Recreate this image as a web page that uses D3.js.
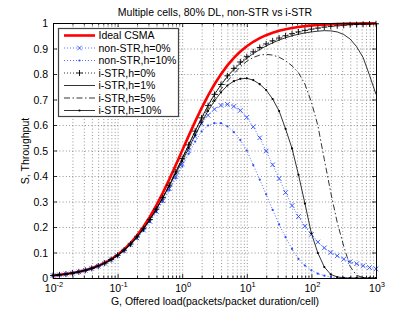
<!DOCTYPE html>
<html>
<head>
<meta charset="utf-8">
<script src="https://cdn.jsdelivr.net/npm/d3@7"></script>
<style>
  body { margin: 0; background: #fff; }
  svg { display: block; }
  text { font-family: "Liberation Sans", Arial, sans-serif; fill: #000; }
</style>
</head>
<body>
<svg width="415" height="312"></svg>
<script>
// offered load grid, log10(G), 0.1 decade per sample
const logG = [-2, -1.9, -1.8, -1.7, -1.6, -1.5, -1.4, -1.3, -1.2, -1.1,
  -1, -0.9, -0.8, -0.7, -0.6, -0.5, -0.4, -0.3, -0.2, -0.1,
  0, 0.1, 0.2, 0.3, 0.4, 0.5, 0.6, 0.7, 0.8, 0.9,
  1, 1.1, 1.2, 1.3, 1.4, 1.5, 1.6, 1.7, 1.8, 1.9,
  2, 2.1, 2.2, 2.3, 2.4, 2.5, 2.6, 2.7, 2.8, 2.9, 3];

const idealCSMA = [0.0099, 0.0124, 0.0156, 0.0196, 0.0245, 0.0307, 0.0383, 0.0477, 0.0594, 0.0736,
  0.0909, 0.1118, 0.1368, 0.1663, 0.2008, 0.2403, 0.2847, 0.3339, 0.3869, 0.4427,
  0.5, 0.5573, 0.6131, 0.6661, 0.7153, 0.7597, 0.7992, 0.8337, 0.8632, 0.8882,
  0.9091, 0.9264, 0.9406, 0.9523, 0.9617, 0.9693, 0.9755, 0.9804, 0.9844, 0.9876,
  0.9901, 0.9921, 0.9937, 0.995, 0.996, 0.9968, 0.9975, 0.998, 0.9984, 0.9987, 0.999];

const nonStr0 = [0.0098, 0.0123, 0.0154, 0.0193, 0.0241, 0.0301, 0.0375, 0.0466, 0.0578, 0.0714,
  0.0875, 0.107, 0.130, 0.157, 0.188, 0.222, 0.261, 0.303, 0.350, 0.398,
  0.448, 0.500, 0.555, 0.605, 0.638, 0.662, 0.677, 0.681, 0.673, 0.657,
  0.630, 0.593, 0.550, 0.498, 0.444, 0.390, 0.335, 0.284, 0.241, 0.203,
  0.171, 0.141, 0.118, 0.100, 0.087, 0.074, 0.064, 0.056, 0.048, 0.041, 0.036];

const nonStr10 = [0.0098, 0.0123, 0.0154, 0.0193, 0.0241, 0.0301, 0.0375, 0.0466, 0.0578, 0.0714,
  0.0873, 0.107, 0.130, 0.156, 0.186, 0.220, 0.258, 0.299, 0.344, 0.391,
  0.438, 0.487, 0.535, 0.575, 0.598, 0.607, 0.607, 0.595, 0.572, 0.541,
  0.500, 0.443, 0.386, 0.328, 0.267, 0.210, 0.160, 0.114, 0.075, 0.049,
  0.030, 0.017, 0.009, 0.004, 0.002, 0.001, 0, 0, 0, 0, 0];

const iStr0 = [0.0098, 0.0123, 0.0154, 0.0193, 0.0242, 0.0303, 0.0378, 0.0470, 0.0584, 0.0722,
  0.089, 0.109, 0.133, 0.161, 0.193, 0.229, 0.270, 0.315, 0.364, 0.416,
  0.468, 0.522, 0.576, 0.628, 0.676, 0.720, 0.759, 0.793, 0.822, 0.847,
  0.868, 0.887, 0.904, 0.918, 0.930, 0.941, 0.950, 0.958, 0.965, 0.971,
  0.976, 0.980, 0.984, 0.987, 0.989, 0.991, 0.993, 0.994, 0.995, 0.996, 0.997];

const iStr1 = [0.0098, 0.0123, 0.0154, 0.0193, 0.0242, 0.0303, 0.0378, 0.0470, 0.0584, 0.0722,
  0.089, 0.109, 0.133, 0.161, 0.193, 0.229, 0.270, 0.315, 0.364, 0.416,
  0.468, 0.522, 0.576, 0.628, 0.676, 0.720, 0.757, 0.790, 0.818, 0.842,
  0.862, 0.880, 0.896, 0.910, 0.922, 0.933, 0.942, 0.950, 0.956, 0.961,
  0.965, 0.968, 0.970, 0.969, 0.965, 0.955, 0.937, 0.907, 0.865, 0.795, 0.720];

const iStr5 = [0.0098, 0.0123, 0.0154, 0.0193, 0.0242, 0.0303, 0.0378, 0.0470, 0.0584, 0.0722,
  0.089, 0.109, 0.133, 0.161, 0.193, 0.229, 0.270, 0.315, 0.364, 0.416,
  0.468, 0.522, 0.574, 0.622, 0.665, 0.704, 0.740, 0.772, 0.801, 0.828,
  0.850, 0.865, 0.874, 0.877, 0.874, 0.866, 0.852, 0.832, 0.805, 0.760,
  0.690, 0.598, 0.465, 0.335, 0.218, 0.125, 0.045, 0.010, 0.002, 0, 0];

const iStr10 = [0.0098, 0.0123, 0.0154, 0.0193, 0.0242, 0.0303, 0.0378, 0.0470, 0.0584, 0.0722,
  0.089, 0.109, 0.133, 0.161, 0.193, 0.229, 0.270, 0.315, 0.360, 0.410,
  0.458, 0.510, 0.560, 0.610, 0.655, 0.695, 0.728, 0.755, 0.772, 0.781,
  0.783, 0.776, 0.760, 0.737, 0.702, 0.655, 0.585, 0.508, 0.405, 0.292,
  0.175, 0.098, 0.043, 0.014, 0.004, 0.001, 0, 0, 0, 0, 0];

const yTicks = [0, 0.1, 0.2, 0.3, 0.4, 0.5, 0.6, 0.7, 0.8, 0.9, 1];
const yTickLabels = ["0", "0.1", "0.2", "0.3", "0.4", "0.5", "0.6", "0.7", "0.8", "0.9", "1"];
const xDecades = [-2, -1, 0, 1, 2, 3];

const svg = d3.select("svg");
const plotLeft = 53, plotRight = 376, plotTop = 23, plotBottom = 278;
const blue = "#2a4bff";

const x = d3.scaleLog().domain([0.01, 1000]).range([plotLeft, plotRight]);
const y = d3.scaleLinear().domain([0, 1]).range([plotBottom, plotTop]);
const G = logG.map(v => Math.pow(10, v));

// minor + major x grid positions
const xMinor = [];
for (let d = -2; d < 3; d++) {
  for (let m = 2; m <= 9; m++) xMinor.push(m * Math.pow(10, d));
}

const grid = svg.append("g")
  .attr("stroke", "#7a7a7a")
  .attr("stroke-width", 0.8)
  .attr("stroke-dasharray", "1,2.2");

grid.selectAll(".gx")
  .data(xMinor.concat(xDecades.slice(1, -1).map(d => Math.pow(10, d))))
  .join("line")
  .attr("x1", d => x(d) + 0.5).attr("x2", d => x(d) + 0.5)
  .attr("y1", plotTop).attr("y2", plotBottom);

grid.selectAll(".gy")
  .data(yTicks.slice(1, -1))
  .join("line")
  .attr("x1", plotLeft).attr("x2", plotRight)
  .attr("y1", d => y(d) + 0.5).attr("y2", d => y(d) + 0.5);

// tick marks, inside the box
const ticks = svg.append("g").attr("stroke", "#000").attr("stroke-width", 0.8);
xMinor.forEach(d => {
  ticks.append("line").attr("x1", x(d) + 0.5).attr("x2", x(d) + 0.5).attr("y1", plotBottom).attr("y2", plotBottom - 2.5);
  ticks.append("line").attr("x1", x(d) + 0.5).attr("x2", x(d) + 0.5).attr("y1", plotTop).attr("y2", plotTop + 2.5);
});
xDecades.forEach(d => {
  const px = x(Math.pow(10, d)) + 0.5;
  ticks.append("line").attr("x1", px).attr("x2", px).attr("y1", plotBottom).attr("y2", plotBottom - 4);
  ticks.append("line").attr("x1", px).attr("x2", px).attr("y1", plotTop).attr("y2", plotTop + 4);
});
yTicks.forEach(d => {
  const py = y(d) + 0.5;
  ticks.append("line").attr("x1", plotLeft).attr("x2", plotLeft + 4).attr("y1", py).attr("y2", py);
  ticks.append("line").attr("x1", plotRight).attr("x2", plotRight - 4).attr("y1", py).attr("y2", py);
});

// curves
const line = d3.line().x((d, i) => x(G[i])).y(d => y(d));

function drawCurve(values, color, width, dash) {
  svg.append("path")
    .attr("d", line(values))
    .attr("fill", "none")
    .attr("stroke", color)
    .attr("stroke-width", width)
    .attr("stroke-dasharray", dash);
}

function drawMarkers(values, type, color) {
  const g = svg.append("g").attr("stroke", color).attr("fill", color);
  values.forEach((v, i) => {
    const px = x(G[i]), py = y(v);
    if (type === "x") {
      g.append("path").attr("d", `M${px - 2.3},${py - 2.3}L${px + 2.3},${py + 2.3}M${px - 2.3},${py + 2.3}L${px + 2.3},${py - 2.3}`)
        .attr("stroke-width", 0.9).attr("fill", "none");
    } else if (type === "+") {
      g.append("path").attr("d", `M${px - 3},${py}L${px + 3},${py}M${px},${py - 3}L${px},${py + 3}`)
        .attr("stroke-width", 0.9).attr("fill", "none");
    } else {
      g.append("circle").attr("cx", px).attr("cy", py).attr("r", 1.1).attr("stroke", "none");
    }
  });
}

drawCurve(idealCSMA, "#ff0000", 2.6, null);
drawCurve(nonStr0, blue, 0.8, "1,2");
drawMarkers(nonStr0, "x", blue);
drawCurve(nonStr10, blue, 0.8, "1,2");
drawMarkers(nonStr10, ".", blue);
drawCurve(iStr0, "#000", 0.8, "1,2");
drawMarkers(iStr0, "+", "#000");
drawCurve(iStr1, "#000", 0.8, null);
drawCurve(iStr5, "#000", 0.8, "6,2.5,1.5,2.5");
drawCurve(iStr10, "#000", 0.8, null);
drawMarkers(iStr10, ".", "#000");

// axes box
svg.append("rect")
  .attr("x", plotLeft + 0.5).attr("y", plotTop + 0.5)
  .attr("width", plotRight - plotLeft).attr("height", plotBottom - plotTop)
  .attr("fill", "none").attr("stroke", "#000").attr("stroke-width", 1);

// tick labels
svg.selectAll(".ylab")
  .data(yTicks)
  .join("text")
  .attr("x", plotLeft - 5)
  .attr("y", d => y(d) + 4)
  .attr("text-anchor", "end")
  .attr("font-size", 10.5)
  .text((d, i) => yTickLabels[i]);

xDecades.forEach(d => {
  const t = svg.append("text")
    .attr("x", x(Math.pow(10, d)) + 1)
    .attr("y", 292)
    .attr("text-anchor", "middle")
    .attr("font-size", 10.5);
  t.append("tspan").text("10");
  t.append("tspan").attr("dy", -5).attr("font-size", 7.5).text(d);
});

// title and axis labels
svg.append("text")
  .attr("x", 215).attr("y", 16)
  .attr("text-anchor", "middle")
  .attr("font-size", 10.5)
  .text("Multiple cells, 80% DL, non-STR vs i-STR");

svg.append("text")
  .attr("x", 215).attr("y", 305)
  .attr("text-anchor", "middle")
  .attr("font-size", 10.5)
  .text("G, Offered load(packets/packet duration/cell)");

svg.append("text")
  .attr("transform", "translate(29,151) rotate(-90)")
  .attr("text-anchor", "middle")
  .attr("font-size", 10.5)
  .text("S, Throughput");

// legend
const legend = [
  { name: "Ideal CSMA", color: "#ff0000", width: 2.6, dash: null, marker: null },
  { name: "non-STR,h=0%", color: blue, width: 0.8, dash: "1,2", marker: "x" },
  { name: "non-STR,h=10%", color: blue, width: 0.8, dash: "1,2", marker: "." },
  { name: "i-STR,h=0%", color: "#000", width: 0.8, dash: "1,2", marker: "+" },
  { name: "i-STR,h=1%", color: "#000", width: 0.8, dash: null, marker: null },
  { name: "i-STR,h=5%", color: "#000", width: 0.8, dash: "6,2.5,1.5,2.5", marker: null },
  { name: "i-STR,h=10%", color: "#000", width: 0.8, dash: null, marker: "." }
];

svg.append("rect")
  .attr("x", 58.5).attr("y", 28.5)
  .attr("width", 120).attr("height", 88)
  .attr("fill", "#fff").attr("stroke", "#444").attr("stroke-width", 1.2);

legend.forEach((d, i) => {
  const ly = 35.5 + i * 12.5;
  svg.append("line")
    .attr("x1", 64).attr("x2", 95).attr("y1", ly).attr("y2", ly)
    .attr("stroke", d.color).attr("stroke-width", d.width)
    .attr("stroke-dasharray", d.dash);
  const mx = 79.5;
  if (d.marker === "x") {
    svg.append("path").attr("d", `M${mx - 2.3},${ly - 2.3}L${mx + 2.3},${ly + 2.3}M${mx - 2.3},${ly + 2.3}L${mx + 2.3},${ly - 2.3}`)
      .attr("stroke", d.color).attr("stroke-width", 0.9);
  } else if (d.marker === "+") {
    svg.append("path").attr("d", `M${mx - 3},${ly}L${mx + 3},${ly}M${mx},${ly - 3}L${mx},${ly + 3}`)
      .attr("stroke", d.color).attr("stroke-width", 0.9);
  } else if (d.marker === ".") {
    svg.append("circle").attr("cx", mx).attr("cy", ly).attr("r", 1.1).attr("fill", d.color);
  }
  svg.append("text")
    .attr("x", 98.5).attr("y", ly + 3.8)
    .attr("font-size", 10.5)
    .text(d.name);
});
</script>
</body>
</html>
